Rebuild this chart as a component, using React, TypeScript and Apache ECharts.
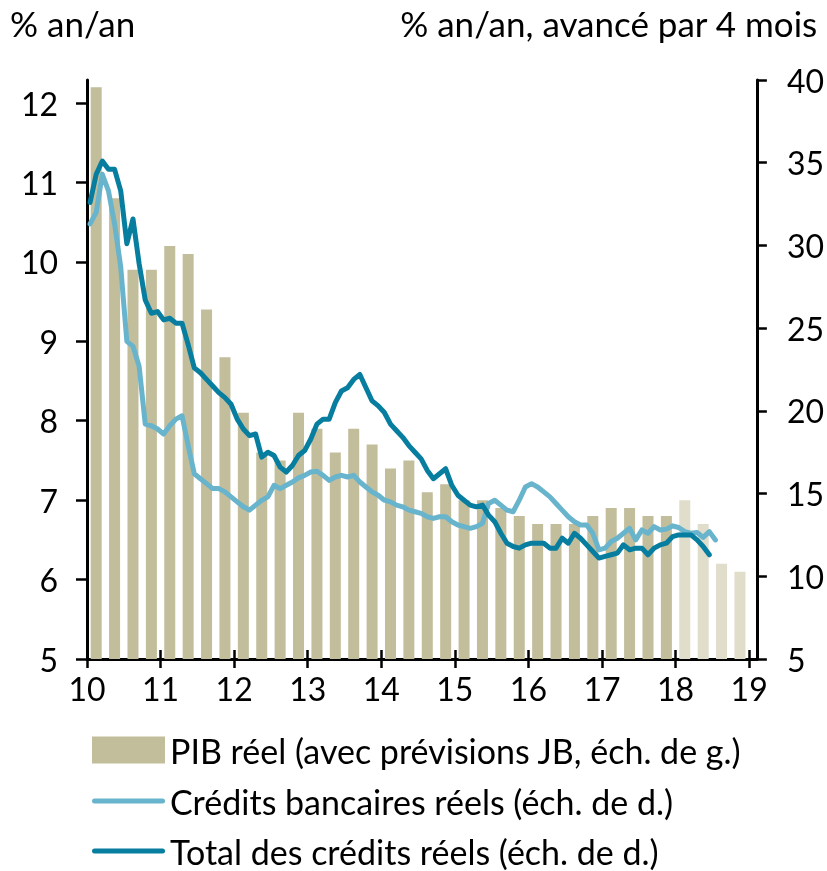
import React, { useEffect, useRef } from "react";
import * as echarts from "echarts";

// ---- data ----
const startYear = 2010;
const yearTicks = [2010, 2011, 2012, 2013, 2014, 2015, 2016, 2017, 2018, 2019];
const leftTicks = [5, 6, 7, 8, 9, 10, 11, 12];
// PIB réel, quarterly, 2010Q1..2017Q4 (observed)
const gdpObserved = [
  12.2, 10.8, 9.9, 9.9,
  10.2, 10.1, 9.4, 8.8,
  8.1, 7.6, 7.5, 8.1,
  7.9, 7.6, 7.9, 7.7,
  7.4, 7.5, 7.1, 7.2,
  7.0, 7.0, 6.9, 6.8,
  6.7, 6.7, 6.7, 6.8,
  6.9, 6.9, 6.8, 6.8,
];
// 2018Q1..Q4 (prévisions JB)
const gdpForecast = [7.0, 6.7, 6.2, 6.1];
// monthly from Jan 2010, % y/y advanced 4 months
const bankCredit = [
  31.3, 32.0, 34.3, 33.3, 31.3, 28.7, 24.2, 23.9, 22.7, 19.2, 19.1, 18.9,
  18.6, 19.1, 19.5, 19.7, 17.9, 16.2, 15.9, 15.6, 15.3, 15.3, 15.1, 14.8,
  14.5, 14.2, 14.0, 14.3, 14.6, 14.8, 15.5, 15.3, 15.5, 15.7, 15.95, 16.1,
  16.3, 16.35, 16.1, 15.8, 16.0, 16.1, 16.0, 16.1, 15.7, 15.4, 15.1, 14.9,
  14.6, 14.5, 14.3, 14.2, 14.0, 13.9, 13.8, 13.6, 13.5, 13.6, 13.6, 13.3,
  13.1, 13.0, 12.9, 13.0, 13.2, 14.4, 14.6, 14.3, 14.0, 13.9, 14.6, 15.4,
  15.6, 15.4, 15.1, 14.8, 14.4, 14.0, 13.6, 13.3, 13.1, 13.1, 12.6, 11.6,
  11.7, 12.1, 12.3, 12.6, 12.9, 12.2, 12.8, 12.6, 13.0, 12.8, 12.85, 13.05,
  12.95, 12.7, 12.6, 12.65, 12.35, 12.7, 12.2,
];
const totalCredit = [
  32.6, 34.3, 35.1, 34.6, 34.6, 33.3, 30.1, 31.6, 28.9, 26.7, 25.9, 26.0,
  25.5, 25.6, 25.3, 25.3, 24.0, 22.6, 22.3, 21.9, 21.5, 21.1, 20.8, 20.4,
  19.5, 18.9, 18.5, 18.6, 17.2, 17.5, 17.3, 16.6, 16.3, 16.7, 17.3, 17.6,
  18.3, 19.2, 19.5, 19.5, 20.5, 21.2, 21.4, 21.9, 22.2, 21.4, 20.6, 20.3,
  19.9, 19.2, 18.8, 18.4, 17.9, 17.5, 17.1, 16.4, 15.9, 16.2, 16.5, 15.5,
  14.9, 14.6, 14.3, 14.2, 14.3, 13.7, 13.3, 12.6, 12.0, 11.8, 11.7, 11.9,
  12.0, 12.0, 12.0, 11.7, 11.7, 12.3, 12.0, 12.6, 12.3, 11.9, 11.5, 11.1,
  11.2, 11.3, 11.4, 11.9, 11.6, 11.7, 11.7, 11.3, 11.7, 11.9, 12.0, 12.4,
  12.5, 12.5, 12.5, 12.2, 11.8, 11.3,
];

const NAME_GDP = "PIB réel (avec prévisions JB, éch. de g.)";
const NAME_BANK = "Crédits bancaires réels (éch. de d.)";
const NAME_TOTAL = "Total des crédits réels (éch. de d.)";

const FONT = "Lato";
const BAR_DARK = "#c2bd9b";
const BAR_LIGHT = "#e0ddcb";
const LIGHT_BLUE = "#68b4cc";
const DARK_BLUE = "#077e9f";
const LINE_ICON = "path://M2.5,0H70.5A2.5,2.5 0 0 1 70.5,5H2.5A2.5,2.5 0 0 1 2.5,0Z";

const quarterX = (i: number) => startYear + (i + 0.5) / 4;
const monthX = (i: number) => startYear + (i + 0.5) / 12;

export default function App() {
  const ref = useRef<HTMLDivElement>(null);
  useEffect(() => {
    const chart = echarts.init(ref.current!, null, { renderer: "svg" });
    const barData = [
      ...gdpObserved.map((v, i) => ({ value: [quarterX(i), v], itemStyle: { color: BAR_DARK } })),
      ...gdpForecast.map((v, j) => ({
        value: [quarterX(gdpObserved.length + j), v],
        itemStyle: { color: BAR_LIGHT },
      })),
    ];
    const tickText = { fontFamily: FONT, fontSize: 32, color: "#000" };
    const bigText = { fontFamily: FONT, fontSize: 35, color: "#000", fontWeight: "normal" };
    const legendText = { fontFamily: FONT, fontSize: 34, color: "#000", lineHeight: 27 };
    const legendBase = {
      orient: "horizontal",
      left: 92,
      padding: 0,
      itemWidth: 73,
      itemHeight: 27,
      symbolKeepAspect: true,
      textStyle: legendText,
      selectedMode: false,
    };
    chart.setOption({
      animation: false,
      title: [
        { text: "% an/an", left: 10, top: 5, padding: 0, textStyle: bigText },
        { text: "% an/an, avancé par 4 mois", right: 9, top: 5, padding: 0, textStyle: bigText },
      ],
      legend: [
        { ...legendBase, top: 733, data: [{ name: NAME_GDP, icon: "rect" }] },
        { ...legendBase, top: 784, data: [{ name: NAME_BANK, icon: LINE_ICON, itemStyle: { color: LIGHT_BLUE } }] },
        { ...legendBase, top: 834, data: [{ name: NAME_TOTAL, icon: LINE_ICON, itemStyle: { color: DARK_BLUE } }] },
      ],
      grid: { left: 87, right: 69, top: 80, bottom: 212, containLabel: false },
      xAxis: [
        {
          type: "value",
          position: "bottom",
          min: 2010,
          max: 2019.105,
          interval: 1,
          axisLine: { show: true, onZero: false, lineStyle: { color: "#000", width: 3 } },
          axisTick: { show: true, length: 9, lineStyle: { color: "#000", width: 2.5 }, customValues: yearTicks },
          axisLabel: {
            ...tickText,
            margin: 13,
            customValues: yearTicks,
            formatter: (v: number) => String(Math.round(v)).slice(2),
          },
          splitLine: { show: false },
        },
        {
          type: "value",
          position: "bottom",
          min: 2010,
          max: 2019.105,
          interval: 1,
          axisLine: { show: false, onZero: false },
          axisTick: { show: true, inside: true, length: 9, lineStyle: { color: "#000", width: 2.5 }, customValues: yearTicks },
          axisLabel: { show: false },
          splitLine: { show: false },
        },
      ],
      yAxis: [
        {
          type: "value",
          position: "left",
          min: 5,
          max: 12.29,
          interval: 1,
          axisLine: { show: true, lineStyle: { color: "#000", width: 3 } },
          axisTick: { show: true, length: 11, lineStyle: { color: "#000", width: 2.5 }, customValues: leftTicks },
          axisLabel: { ...tickText, margin: 29, customValues: leftTicks },
          splitLine: { show: false },
        },
        {
          type: "value",
          position: "right",
          min: 5,
          max: 40,
          interval: 5,
          axisLine: { show: true, lineStyle: { color: "#000", width: 3 } },
          axisTick: { show: true, length: 10, lineStyle: { color: "#000", width: 2.5 } },
          axisLabel: { ...tickText, margin: 30 },
          splitLine: { show: false },
        },
      ],
      series: [
        {
          name: NAME_GDP,
          type: "bar",
          xAxisIndex: 0,
          yAxisIndex: 0,
          barWidth: 11,
          itemStyle: { color: BAR_DARK },
          data: barData,
        },
        {
          name: NAME_BANK,
          type: "line",
          xAxisIndex: 0,
          yAxisIndex: 1,
          symbol: "none",
          showSymbol: false,
          color: LIGHT_BLUE,
          lineStyle: { color: LIGHT_BLUE, width: 5, cap: "round", join: "round" },
          data: bankCredit.map((v, i) => [monthX(i), v]),
        },
        {
          name: NAME_TOTAL,
          type: "line",
          xAxisIndex: 0,
          yAxisIndex: 1,
          symbol: "none",
          showSymbol: false,
          color: DARK_BLUE,
          lineStyle: { color: DARK_BLUE, width: 5, cap: "round", join: "round" },
          data: totalCredit.map((v, i) => [monthX(i), v]),
        },
      ],
    });
    return () => chart.dispose();
  }, []);
  return <div ref={ref} style={{ position: "fixed", left: 0, top: 0, width: 827, height: 871 }} />;
}
